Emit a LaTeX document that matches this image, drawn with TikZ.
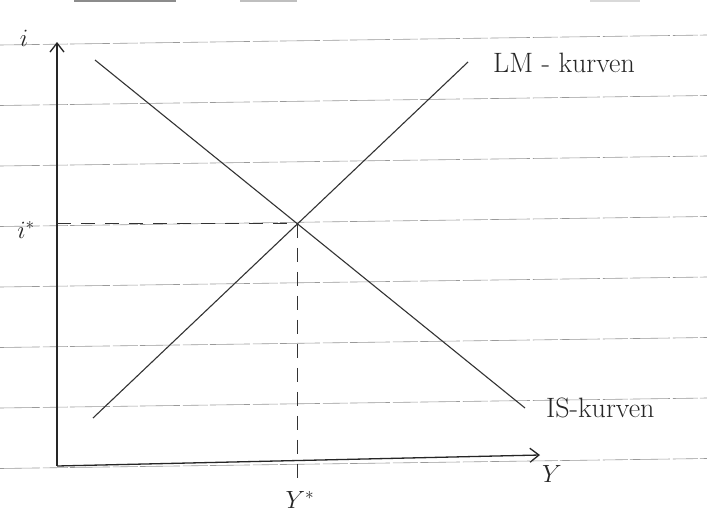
\documentclass[tikz,border=0pt]{standalone}
\usetikzlibrary{arrows.meta,intersections}
\begin{document}
\begin{tikzpicture}[x=1pt,y=-1pt,
  rule/.style={draw=black!40,line width=0.6pt,dash pattern=on 40pt off 3pt on 25pt off 2pt},
  topbit/.style={draw=black!45,line width=2.5pt},
  axisline/.style={draw=black!85,line width=1.3pt},
  curve/.style={draw=black!80,line width=1.1pt},
  guide/.style={draw=black!80,line width=1.1pt,dash pattern=on 14pt off 10pt},
  lab/.style={inner sep=0pt,text=black!85,font=\fontsize{26}{28}\selectfont},
  curvelab/.style={lab,anchor=west,font=\fontsize{28}{30}\selectfont}]
\useasboundingbox (0,0) rectangle (707,514);
\fill[white] (0,0) rectangle (707,514);
% ruled paper lines
\foreach \k in {0,...,7}
  \draw[rule] (0,{45+60.5*\k}) -- (707,{35+60.5*\k});
% remnants at the top edge
\draw[topbit] (74,1) -- (176,1);
\draw[topbit,draw=black!25] (240,1) -- (297,1);
\draw[topbit,draw=black!15] (590,1) -- (640,1);
% axes
\coordinate (O) at (57,466);
\coordinate (ytop) at (57,42);
\coordinate (xend) at (540,455);
\draw[axisline,-{Straight Barb[length=9pt,width=14pt]}] (O) -- (ytop);
\draw[axisline,-{Straight Barb[length=9pt,width=14pt]}] (O) -- (xend);
% curves
\coordinate (IS1) at (95,60);
\coordinate (IS2) at (525,408);
\coordinate (LM1) at (93,418);
\coordinate (LM2) at (468,62);
\draw[curve] (IS1) -- (IS2);
\draw[curve] (LM1) -- (LM2);
\coordinate (E) at (intersection of IS1--IS2 and LM1--LM2);
\coordinate (Ey) at (O |- E);
\path (E) ++(0,256) coordinate (Eb);
\draw[guide] (Ey) -- (E);
\draw[guide] (E) -- (Eb);
% labels
\node[lab] (ilab) at (24,38) {$i$};
\node[curvelab] (lmlab) at (493,63) {LM - kurven};
\node[curvelab] (islab) at (546,408) {IS-kurven};
\node[lab] (istar) at (26,230) {$i^{*}$};
\node[lab] (ystar) at (300,500) {$Y^{*}$};
\node[lab] (ylab) at (552,474) {$Y$};
\end{tikzpicture}
\end{document}
